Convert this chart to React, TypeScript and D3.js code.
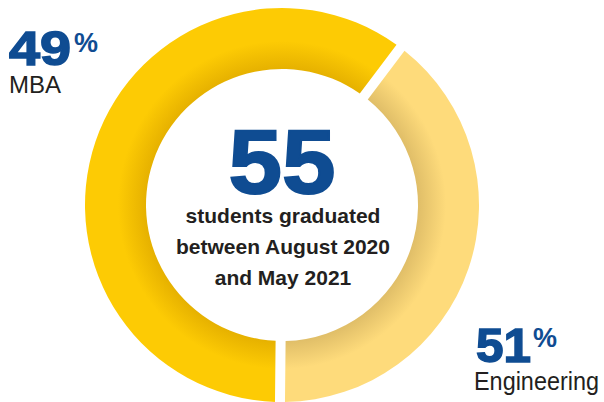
import React from "react";
import * as d3 from "d3";

const categories = ["Engineering", "MBA"];
const percents = [51, 49];
// angular sweep of each ring segment as drawn in the reference (degrees)
const sweepDeg = [143, 217];
const baseColors = ["#FEDB7B", "#FDCB04"];
const shadeColors = ["#E0BE68", "#E6B100"];
const totalGraduates = 55;
const captionLines = ["students graduated", "between August 2020", "and May 2021"];

const W = 604;
const H = 402;
const cx = 282;
const cy = 205;
const outerR = 197;
const innerR = 136;
const startDeg = 37;

export default function App() {
  const data = categories.map((c, i) => ({ name: c, pct: percents[i], sweep: sweepDeg[i] }));
  const pie = d3
    .pie<any>()
    .value((d) => d.sweep)
    .sort(null)
    .startAngle((startDeg * Math.PI) / 180)
    .endAngle((startDeg * Math.PI) / 180 + 2 * Math.PI)
    .padAngle(10 / 200);
  const arc = d3.arc<any>().innerRadius(innerR).outerRadius(outerR).padRadius(200);
  const arcs = pie(data);
  const blue = "#0F4C92";
  const dark = "#231F20";
  const lineY = d3.scaleLinear().domain([0, 1]).range([223, 254]);

  return (
    <svg width={W} height={H} style={{ position: "absolute", left: 0, top: 0, display: "block" }}>
      <defs>
        {arcs.map((a, i) => (
          <radialGradient key={i} id={`g${i}`} gradientUnits="userSpaceOnUse" cx={0} cy={0} r={outerR}>
            <stop offset={innerR / outerR} stopColor={shadeColors[i]} />
            <stop offset={(innerR + 28) / outerR} stopColor={baseColors[i]} />
            <stop offset={1} stopColor={baseColors[i]} />
          </radialGradient>
        ))}
      </defs>
      <rect width={W} height={H} fill="#fff" />
      <g transform={`translate(${cx},${cy})`}>
        {arcs.map((a, i) => (
          <path key={i} d={arc(a) as string} fill={`url(#g${i})`} />
        ))}
      </g>
      <text
        x={cx}
        y={193}
        textAnchor="middle"
        fontFamily="Liberation Sans, Arial, sans-serif"
        fontWeight="bold"
        fontSize={91}
        fill={blue}
        stroke={blue}
        strokeWidth={2}
        textLength={107}
        lengthAdjust="spacingAndGlyphs"
      >
        {totalGraduates}
      </text>
      {captionLines.map((t, i) => (
        <text
          key={i}
          x={cx + 1}
          y={lineY(i)}
          textAnchor="middle"
          fontFamily="Liberation Sans, Arial, sans-serif"
          fontWeight="bold"
          fontSize={21}
          fill={dark}
        >
          {t}
        </text>
      ))}
      {/* MBA label */}
      <text
        x={9}
        y={65}
        fontFamily="Liberation Sans, Arial, sans-serif"
        fontWeight="bold"
        fontSize={48}
        fill={blue}
        stroke={blue}
        strokeWidth={1.5}
        textLength={62}
        lengthAdjust="spacingAndGlyphs"
      >
        {percents[1]}
      </text>
      <text x={74} y={52} fontFamily="Liberation Sans, Arial, sans-serif" fontWeight="bold" fontSize={27} fill={blue}>
        %
      </text>
      <text x={9} y={93} fontFamily="Liberation Sans, Arial, sans-serif" fontSize={24} fill={dark}>
        {categories[1]}
      </text>
      {/* Engineering label */}
      <text
        x={476}
        y={362}
        fontFamily="Liberation Sans, Arial, sans-serif"
        fontWeight="bold"
        fontSize={48}
        fill={blue}
        stroke={blue}
        strokeWidth={1.5}
        textLength={55}
        lengthAdjust="spacingAndGlyphs"
      >
        {percents[0]}
      </text>
      <text x={533} y={347} fontFamily="Liberation Sans, Arial, sans-serif" fontWeight="bold" fontSize={27} fill={blue}>
        %
      </text>
      <text
        x={474}
        y={390}
        fontFamily="Liberation Sans, Arial, sans-serif"
        fontSize={25}
        fill={dark}
        textLength={125}
        lengthAdjust="spacingAndGlyphs"
      >
        {categories[0]}
      </text>
    </svg>
  );
}
